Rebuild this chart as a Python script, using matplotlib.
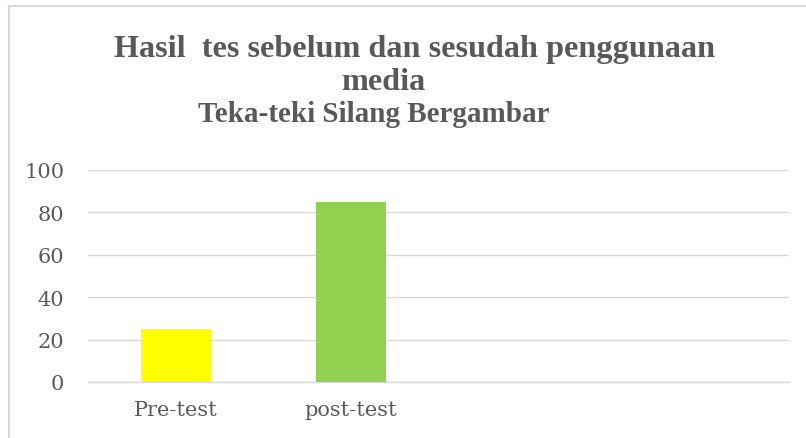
import matplotlib.pyplot as plt
from matplotlib.lines import Line2D

# data
categories = ["Pre-test", "post-test", "", ""]
scores = [25, 85, 0, 0]
bar_colors = ["#FFFF00", "#92D050", "#FFFFFF", "#FFFFFF"]
yticks = [0, 20, 40, 60, 80, 100]

W, H = 806, 439
fig = plt.figure(figsize=(W / 100, H / 100), dpi=100)
fig.patch.set_facecolor("white")

# outer frame (only top and left edges visible)
fig.add_artist(Line2D([8.5 / W, 1.0], [1 - 6.5 / H] * 2, color="#d9d9d9", lw=1.5))
fig.add_artist(Line2D([8.5 / W] * 2, [0.0, 1 - 6.5 / H], color="#d9d9d9", lw=1.5))

ax = fig.add_axes([88 / W, 1 - 383 / H, (789 - 88) / W, (383 - 171) / H])
x = range(len(categories))
ax.bar(x, scores, width=0.4, color=bar_colors, zorder=3)
ax.set_xlim(-0.5, 3.5)
ax.set_ylim(0, 100)
ax.set_yticks(yticks)
ax.set_xticks(list(x))
ax.set_xticklabels(categories)

ax.grid(axis="y", color="#d9d9d9", lw=1.0, zorder=0)
for s in ["top", "right", "left"]:
    ax.spines[s].set_visible(False)
ax.spines["bottom"].set_color("#d9d9d9")
ax.spines["bottom"].set_linewidth(1.0)
ax.tick_params(length=0, colors="#595959", labelsize=15)
ax.tick_params(axis="y", pad=17)
ax.tick_params(axis="x", pad=13)
for lbl in ax.get_xticklabels() + ax.get_yticklabels():
    lbl.set_family("DejaVu Serif")

# title lines
title_col = "#595959"
fig.text(415 / W, 1 - 57 / H, "Hasil  tes sebelum dan sesudah penggunaan",
         ha="center", va="baseline", fontsize=23.2, fontweight="bold",
         family="Liberation Serif", color=title_col)
fig.text(383 / W, 1 - 90 / H, "media", ha="center", va="baseline",
         fontsize=23.2, fontweight="bold", family="Liberation Serif", color=title_col)
fig.text(374 / W, 1 - 122 / H, "Teka-teki Silang Bergambar", ha="center",
         va="baseline", fontsize=21, fontweight="bold", family="Liberation Serif",
         color=title_col)

fig.savefig("out.png", dpi=100)
